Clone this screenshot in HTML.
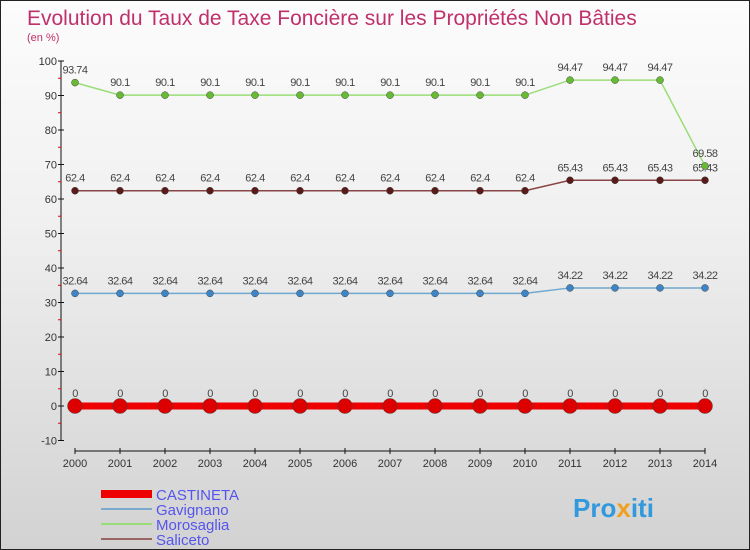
<!DOCTYPE html>
<html><head><meta charset="utf-8"><style>
body{margin:0}
#c{width:748px;height:548px;border:1px solid #222;background:linear-gradient(#fcfcfc,#f0f0f0 40%,#d2d2d2);position:relative;font-family:"Liberation Sans",sans-serif;overflow:hidden}
</style></head><body>
<div id="c">
<svg width="748" height="548" id="s">
<text x="26" y="24" font-size="21" fill="#c0306a">Evolution du Taux de Taxe Foncière sur les Propriétés Non Bâties</text>
<text x="26" y="40" font-size="11" fill="#c0306a">(en %)</text>
<g id="g"></g>
<text x="572" y="516" font-size="26" font-weight="bold" fill="#3399dd">Pro<tspan fill="#f0a020">x</tspan>iti</text>
</svg></div>
<script>
const years=[2000,2001,2002,2003,2004,2005,2006,2007,2008,2009,2010,2011,2012,2013,2014];
const castineta=[0,0,0,0,0,0,0,0,0,0,0,0,0,0,0];
const gavignano=[32.64,32.64,32.64,32.64,32.64,32.64,32.64,32.64,32.64,32.64,32.64,34.22,34.22,34.22,34.22];
const morosaglia=[93.74,90.1,90.1,90.1,90.1,90.1,90.1,90.1,90.1,90.1,90.1,94.47,94.47,94.47,69.58];
const saliceto=[62.4,62.4,62.4,62.4,62.4,62.4,62.4,62.4,62.4,62.4,62.4,65.43,65.43,65.43,65.43];
const yTicks=[-10,0,10,20,30,40,50,60,70,80,90,100];
const seriesNames=["CASTINETA","Gavignano","Morosaglia","Saliceto"];
const NS="http://www.w3.org/2000/svg",g=document.getElementById('g');
const X=i=>74+i*45, Y=v=>405-v*3.45;
function el(t,a,p){const e=document.createElementNS(NS,t);for(const k in a)e.setAttribute(k,a[k]);(p||g).appendChild(e);return e;}
let ax=el('line',{x1:60,y1:60,x2:60,y2:440,stroke:'#111'});


yTicks.forEach(v=>{
 el('line',{x1:57,x2:63,y1:Y(v),y2:Y(v),stroke:'#111'});
 if(v<100) el('line',{x1:57,x2:60,y1:Y(v+5),y2:Y(v+5),stroke:'#e00'});
 let t=el('text',{x:56,y:Y(v)+4,'font-size':11,fill:'#333','text-anchor':'end'});t.textContent=v;
 
 
});
let xa=el('line',{x1:74,y1:450,x2:704,y2:450,stroke:'#111'});


years.forEach((y,i)=>{
 el('line',{x1:X(i),x2:X(i),y1:447,y2:453,stroke:'#111'});
 let t=el('text',{x:X(i),y:466,'font-size':11,fill:'#333','text-anchor':'middle'});t.textContent=y;
 
 
});
const cfg=[[castineta,'#ee0000','#dd0000',7,7.5,'castineta'],[gavignano,'#6fa8d0','#3d85c6',1.5,3.5,'gavignano'],[saliceto,'#884444','#5a1a1a',1.5,3.5,'saliceto'],[morosaglia,'#99dd77','#66bb33',1.5,3.5,'morosaglia']];
cfg.forEach(([d,lc,pc,w,r,n])=>{
 let p=el('polyline',{points:d.map((v,i)=>X(i)+','+Y(v)).join(' '),fill:'none',stroke:lc,'stroke-width':w});
 
 
 d.forEach((v,i)=>{
  let c=el('circle',{cx:X(i),cy:Y(v),r:r,fill:pc,stroke:'#444','stroke-width':0.5});
  
  
  let t=el('text',{x:X(i),y:Y(v)-9,'font-size':11,fill:'#444','text-anchor':'middle','letter-spacing':'-0.5'});t.textContent=v;
  
  
 });
});
const lc=['#ee0000','#7aaacc','#99dd77','#996666'],lw=[8,2,2,2];
seriesNames.forEach((n,i)=>{
 const y=493+i*15;
 el('line',{x1:100,x2:151,y1:y,y2:y,stroke:lc[i],'stroke-width':lw[i]});
 let t=el('text',{x:155,y:y+6,'font-size':15,fill:'#5555ee'});t.textContent=n;
 
 
});
</script>
</body></html>
